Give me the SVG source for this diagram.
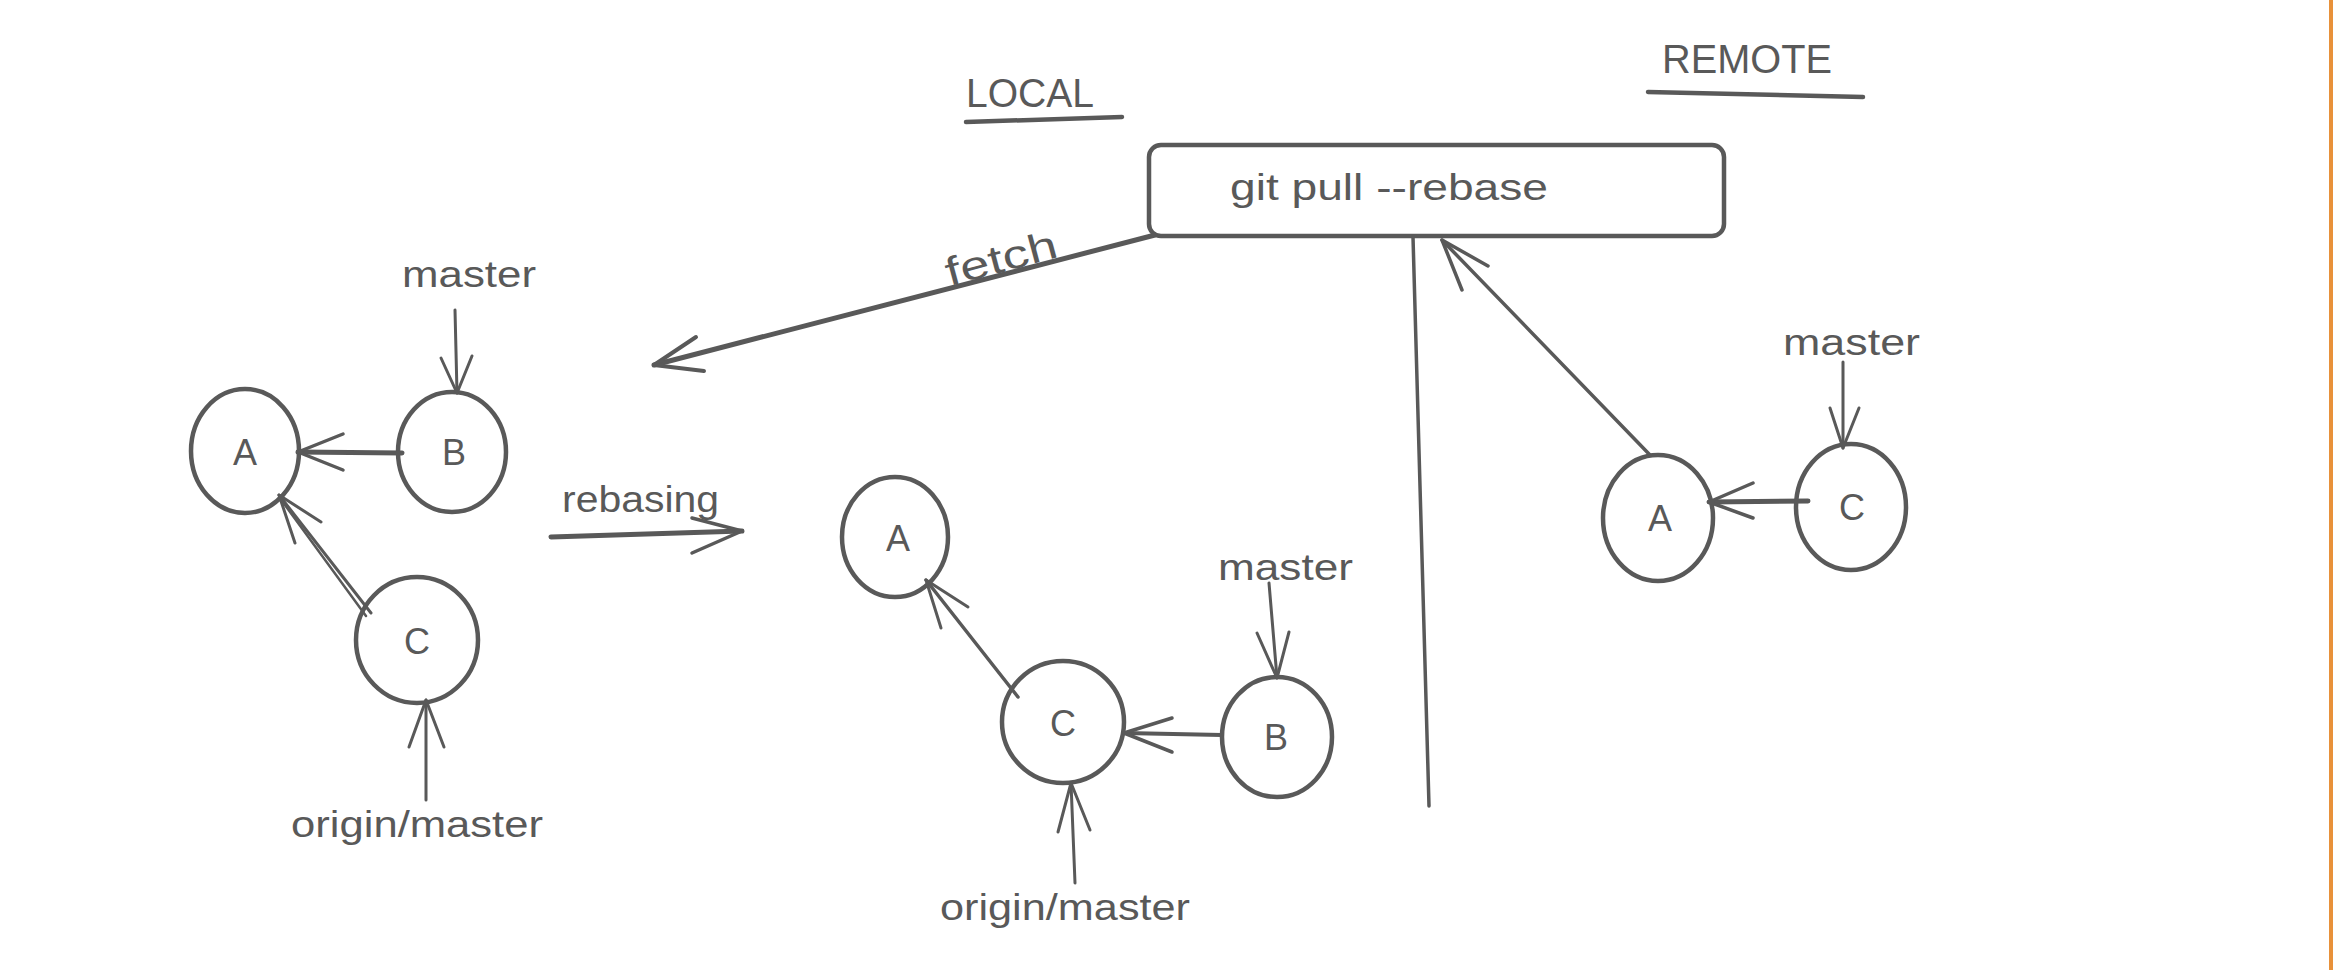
<svg xmlns="http://www.w3.org/2000/svg" width="2333" height="970" viewBox="0 0 2333 970">
<style>
.bg{fill:#ffffff}
.node{fill:none;stroke:#595959;stroke-width:4.5}
.ln{fill:none;stroke:#595959;stroke-linecap:round;stroke-linejoin:round}
.t{fill:#595959;font-family:"Liberation Sans","DejaVu Sans",sans-serif}
.lbl{font-size:36px}
.big{font-size:40px}
.letter{font-size:36px;text-anchor:middle}
</style>
<rect class="bg" x="0" y="0" width="2333" height="970"/>
<rect x="2329" y="0" width="4" height="970" fill="#e8913a"/>

<g id="title-local">
<text class="t big" x="966" y="107" textLength="128" lengthAdjust="spacingAndGlyphs">LOCAL</text>
<line class="ln" x1="966" y1="122" x2="1122" y2="117" stroke-width="4.5"/>
</g>
<g id="title-remote">
<text class="t big" x="1662" y="73" textLength="170" lengthAdjust="spacingAndGlyphs">REMOTE</text>
<line class="ln" x1="1648" y1="92" x2="1863" y2="97" stroke-width="4.5"/>
</g>

<g id="cmd">
<rect class="node" x="1149" y="145" width="575" height="91" rx="12"/>
<text class="t lbl" x="1230" y="200" textLength="318" lengthAdjust="spacingAndGlyphs">git pull --rebase</text>
</g>

<g id="local-A"><ellipse class="node" cx="245" cy="451" rx="54" ry="62"/><text class="t letter" x="245" y="465">A</text></g>
<g id="local-B"><ellipse class="node" cx="452" cy="452" rx="54" ry="60"/><text class="t letter" x="454" y="465">B</text></g>
<g id="local-C"><ellipse class="node" cx="417" cy="640" rx="61" ry="63"/><text class="t letter" x="417" y="654">C</text></g>
<g id="local-master"><text class="t lbl" x="402" y="287" textLength="134" lengthAdjust="spacingAndGlyphs">master</text></g>
<g id="local-origin"><text class="t lbl" x="291" y="837" textLength="252" lengthAdjust="spacingAndGlyphs">origin/master</text></g>

<g id="rebased-A"><ellipse class="node" cx="895" cy="537" rx="53" ry="60"/><text class="t letter" x="898" y="551">A</text></g>
<g id="rebased-C"><ellipse class="node" cx="1063" cy="722" rx="61" ry="61"/><text class="t letter" x="1063" y="736">C</text></g>
<g id="rebased-B"><ellipse class="node" cx="1277" cy="737" rx="55" ry="60"/><text class="t letter" x="1276" y="750">B</text></g>
<g id="rebased-master"><text class="t lbl" x="1218" y="580" textLength="135" lengthAdjust="spacingAndGlyphs">master</text></g>
<g id="rebased-origin"><text class="t lbl" x="940" y="920" textLength="250" lengthAdjust="spacingAndGlyphs">origin/master</text></g>

<g id="remote-A"><ellipse class="node" cx="1658" cy="518" rx="55" ry="63"/><text class="t letter" x="1660" y="531">A</text></g>
<g id="remote-C"><ellipse class="node" cx="1851" cy="507" rx="55" ry="63"/><text class="t letter" x="1852" y="520">C</text></g>
<g id="remote-master"><text class="t lbl" x="1783" y="355" textLength="137" lengthAdjust="spacingAndGlyphs">master</text></g>

<g id="connectors">
<!-- fetch -->
<line class="ln" x1="1155" y1="235" x2="654" y2="365" stroke-width="5"/>
<polyline class="ln" points="696,337 654,365 704,371" stroke-width="4"/>
<text class="t" font-size="40" x="944" y="272" textLength="114" lengthAdjust="spacingAndGlyphs" transform="rotate(-15 1001 258)">fetch</text>
<!-- divider -->
<line class="ln" x1="1413" y1="237" x2="1429" y2="806" stroke-width="3.5"/>
<!-- remote A to cmd -->
<line class="ln" x1="1650" y1="455" x2="1442" y2="240" stroke-width="3.5"/>
<polyline class="ln" points="1488,266 1442,240 1462,290" stroke-width="3.5"/>
<!-- remote master -->
<line class="ln" x1="1843" y1="362" x2="1843" y2="448" stroke-width="3"/>
<polyline class="ln" points="1830,408 1843,448 1859,408" stroke-width="3"/>
<!-- remote C to A -->
<line class="ln" x1="1808" y1="501" x2="1709" y2="502" stroke-width="5"/>
<polyline class="ln" points="1753,483 1709,502 1753,518" stroke-width="3.5"/>
<!-- local master -->
<line class="ln" x1="455" y1="310" x2="457" y2="393" stroke-width="3"/>
<polyline class="ln" points="441,358 457,393 472,356" stroke-width="3"/>
<!-- local B to A -->
<line class="ln" x1="402" y1="453" x2="298" y2="452" stroke-width="5"/>
<polyline class="ln" points="343,434 298,452 343,470" stroke-width="3.5"/>
<!-- local C to A -->
<line class="ln" x1="371" y1="613" x2="279" y2="495" stroke-width="3"/>
<line class="ln" x1="366" y1="616" x2="282" y2="501" stroke-width="2.5"/>
<polyline class="ln" points="321,522 279,495 295,543" stroke-width="3"/>
<!-- local origin/master -->
<line class="ln" x1="426" y1="800" x2="426" y2="700" stroke-width="3"/>
<polyline class="ln" points="409,747 426,700 444,747" stroke-width="3"/>
<!-- rebasing -->
<text class="t lbl" x="562" y="512" textLength="157" lengthAdjust="spacingAndGlyphs">rebasing</text>
<line class="ln" x1="551" y1="537" x2="742" y2="531" stroke-width="5"/>
<polyline class="ln" points="692,518 742,531 692,553" stroke-width="3.5"/>
<!-- rebased C to A -->
<line class="ln" x1="1018" y1="697" x2="926" y2="580" stroke-width="3.5"/>
<polyline class="ln" points="968,607 926,580 941,628" stroke-width="3"/>
<!-- rebased origin/master -->
<line class="ln" x1="1075" y1="883" x2="1071" y2="783" stroke-width="3"/>
<polyline class="ln" points="1058,832 1071,783 1090,830" stroke-width="3"/>
<!-- rebased B to C -->
<line class="ln" x1="1222" y1="735" x2="1124" y2="733" stroke-width="4"/>
<polyline class="ln" points="1172,718 1124,733 1172,752" stroke-width="3.5"/>
<!-- rebased master -->
<line class="ln" x1="1269" y1="583" x2="1277" y2="678" stroke-width="3"/>
<polyline class="ln" points="1257,633 1277,678 1289,632" stroke-width="3"/>
</g>
</svg>
